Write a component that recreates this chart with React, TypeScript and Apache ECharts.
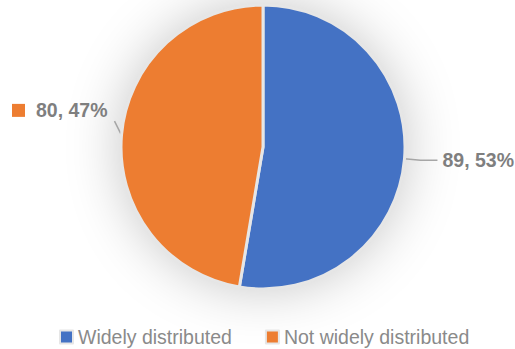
import React, { useEffect, useRef } from "react";
import * as echarts from "echarts";

const categories = ["Widely distributed", "Not widely distributed"];
const values = [89, 80];
const colors = ["#4472C4", "#ED7D31"];

export default function App() {
  const ref = useRef<HTMLDivElement>(null);
  useEffect(() => {
    if (!ref.current) return;
    const chart = echarts.init(ref.current, undefined, { renderer: "svg" });
    const font = "'Liberation Sans', Arial, sans-serif";
    chart.setOption({
      animation: false,
      backgroundColor: "#ffffff",
      textStyle: { fontFamily: font },
      legend: {
        data: categories,
        bottom: -3,
        left: 54,
        icon: "rect",
        itemWidth: 13,
        itemHeight: 13,
        itemGap: 33,
        textStyle: { fontSize: 19.5, color: "#8a8a8a", fontFamily: font },
      },
      series: [
        {
          type: "pie",
          silent: true,
          z: 1,
          center: [263, 147],
          radius: 141,
          label: { show: false },
          labelLine: { show: false },
          itemStyle: {
            color: "#ececec",
            shadowBlur: 55,
            shadowColor: "rgba(0,0,0,0.24)",
          },
          data: [{ value: 1, name: "base" }],
        },
        {
          type: "pie",
          z: 2,
          center: [263, 147],
          radius: 142,
          startAngle: 90,
          clockwise: true,
          percentPrecision: 0,
          itemStyle: { borderColor: "#e6e6e6", borderWidth: 3 },
          label: {
            show: true,
            position: "outside",
            overflow: "none",
            edgeDistance: 0,
            fontFamily: font,
            fontSize: 19.5,
            fontWeight: "bold",
            color: "#7f7f7f",
            formatter: (p: any) =>
              p.dataIndex === 1
                ? `{sq| }{t|${p.value}, ${p.percent}%}`
                : `{t|${p.value}, ${p.percent}%}`,
            rich: {
              sq: { width: 13, height: 13, backgroundColor: colors[1], fontSize: 10 },
              t: {
                fontFamily: font,
                fontSize: 19.5,
                fontWeight: "bold",
                color: "#7f7f7f",
              },
            },
          },
          labelLine: {
            show: true,
            length: 16,
            length2: 17,
            lineStyle: { color: "#a6a6a6", width: 1.5 },
          },
          labelLayout: (params: any) => {
            if (params.dataIndex === 1 && params.labelLinePoints) {
              const p0 = params.labelLinePoints[0];
              const end = [p0[0] - 7, p0[1] - 14];
              return { dy: -24, labelLinePoints: [p0, end, end] };
            }
            return {};
          },
          data: categories.map((name, i) => ({
            name,
            value: values[i],
            itemStyle: { color: colors[i] },
            labelLine: i === 1 ? { length: 9, length2: 0 } : {},
            label:
              i === 1
                ? {
                    rich: {
                      sq: { width: 13, height: 13, backgroundColor: colors[1], fontSize: 10 },
                      t: { padding: [0, 0, 0, 11] },
                    },
                  }
                : {},
          })),
        },
      ],
    });
    return () => chart.dispose();
  }, []);
  return (
    <div
      ref={ref}
      style={{ position: "fixed", left: 0, top: 0, width: 515, height: 349 }}
    />
  );
}
